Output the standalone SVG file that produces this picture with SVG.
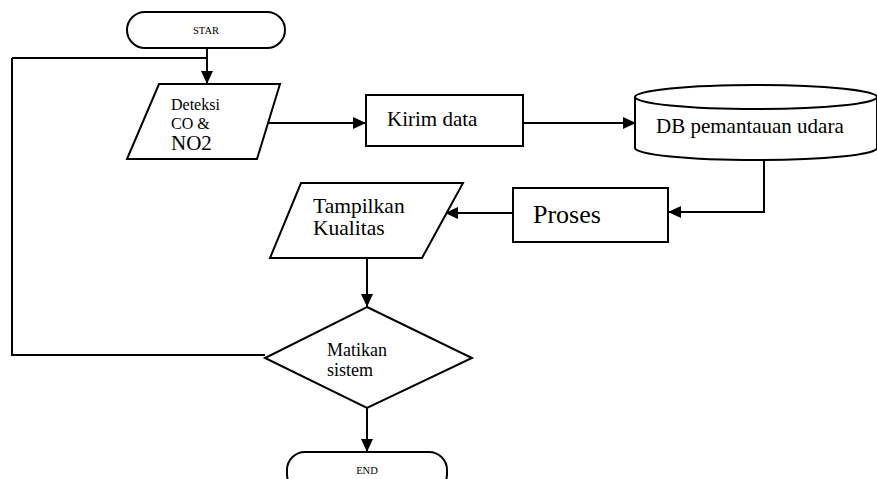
<svg xmlns="http://www.w3.org/2000/svg" width="877" height="479" viewBox="0 0 877 479">
<style>
.s{fill:#fff;stroke:#000;stroke-width:2}
.c{fill:none;stroke:#000;stroke-width:2}
.t{font-family:'Liberation Serif','Times New Roman','DejaVu Serif',serif;fill:#000}
</style>
<defs>
<marker id="ah" markerWidth="13" markerHeight="12" refX="13" refY="6" orient="auto" markerUnits="userSpaceOnUse">
<path d="M0,0 L13,6 L0,12 Z" fill="#000"/>
</marker>
</defs>
<rect width="877" height="479" fill="#fff"/>
<g id="connectors">
<path class="c" d="M207,48 V84" marker-end="url(#ah)"/>
<path class="c" d="M12,58 H207"/>
<path class="c" d="M12,58 V355 H265"/>
<path class="c" d="M268,123 H366" marker-end="url(#ah)"/>
<path class="c" d="M523,123 H636" marker-end="url(#ah)"/>
<path class="c" d="M764,160 V212 H668" marker-end="url(#ah)"/>
<path class="c" d="M513,213 H445" marker-end="url(#ah)"/>
<path class="c" d="M367,258 V307" marker-end="url(#ah)"/>
<path class="c" d="M367,408 V452" marker-end="url(#ah)"/>
</g>
<g id="star">
<rect class="s" x="127" y="12" width="158" height="36" rx="18"/>
<text class="t" x="206" y="34" font-size="10.5" text-anchor="middle">STAR</text>
</g>
<g id="deteksi">
<polygon class="s" points="159,84 280,84 257,159 127,159"/>
<text class="t" x="171" y="110" font-size="16">Deteksi</text>
<text class="t" x="171" y="129" font-size="16">CO &amp;</text>
<text class="t" x="171" y="150" font-size="21">NO2</text>
</g>
<g id="kirim">
<rect class="s" x="366" y="95" width="157" height="51"/>
<text class="t" x="387" y="126" font-size="21">Kirim data</text>
</g>
<g id="db">
<path class="s" d="M635,97 V148 A121,12 0 0 0 877,148 V97"/>
<ellipse class="s" cx="756" cy="97" rx="121" ry="12"/>
<text class="t" x="656" y="133" font-size="21">DB pemantauan udara</text>
</g>
<g id="proses">
<rect class="s" x="513" y="188" width="155" height="54"/>
<text class="t" x="533" y="223" font-size="26">Proses</text>
</g>
<g id="tampilkan">
<polygon class="s" points="301,183 463,183 422,258 270,258"/>
<text class="t" x="313" y="213" font-size="21.5">Tampilkan</text>
<text class="t" x="313" y="235" font-size="21.5">Kualitas</text>
</g>
<g id="matikan">
<polygon class="s" points="367,307 472,358 367,408 265,358"/>
<text class="t" x="327" y="356" font-size="18">Matikan</text>
<text class="t" x="327" y="376" font-size="18">sistem</text>
</g>
<g id="end">
<rect class="s" x="287" y="452" width="160" height="40" rx="18"/>
<text class="t" x="367" y="474" font-size="10.5" text-anchor="middle">END</text>
</g>
</svg>
